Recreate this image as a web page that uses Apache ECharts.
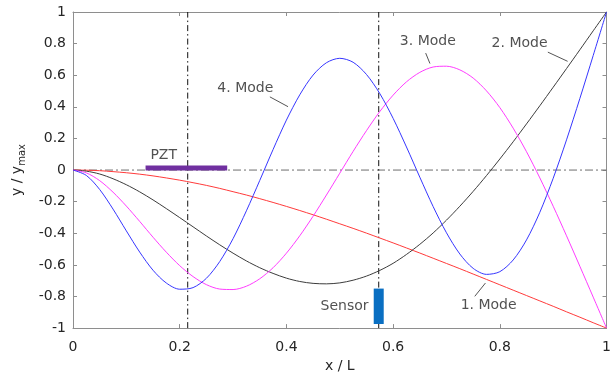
<!DOCTYPE html>
<html>
<head>
<meta charset="utf-8">
<script src="https://cdn.jsdelivr.net/npm/echarts@6/dist/echarts.min.js"></script>
<style>
  html, body { margin: 0; padding: 0; background: #fff; }
  #chart { width: 614px; height: 378px; }
</style>
</head>
<body>
<div id="chart"></div>
<script>
// Normalised mode shapes of a cantilever beam, sampled along x / L
const xPositions = [0, 0.025, 0.05, 0.075, 0.1, 0.125, 0.15, 0.175, 0.2, 0.225, 0.25,
                    0.275, 0.3, 0.325, 0.35, 0.375, 0.4, 0.425, 0.45, 0.475, 0.5,
                    0.525, 0.55, 0.575, 0.6, 0.625, 0.65, 0.675, 0.7, 0.725, 0.75,
                    0.775, 0.8, 0.825, 0.85, 0.875, 0.9, 0.925, 0.95, 0.975, 1];
const mode1 = [0, -0.001, -0.004, -0.010, -0.017, -0.026, -0.037, -0.050, -0.064, -0.080, -0.097,
               -0.116, -0.137, -0.158, -0.181, -0.205, -0.230, -0.256, -0.283, -0.311, -0.340,
               -0.369, -0.399, -0.430, -0.461, -0.493, -0.525, -0.558, -0.591, -0.624, -0.658,
               -0.692, -0.726, -0.760, -0.794, -0.828, -0.862, -0.897, -0.931, -0.966, -1];
const mode2 = [0, -0.007, -0.025, -0.055, -0.093, -0.138, -0.189, -0.244, -0.301, -0.359, -0.417,
               -0.473, -0.526, -0.575, -0.618, -0.654, -0.684, -0.705, -0.717, -0.720, -0.714,
               -0.697, -0.671, -0.635, -0.590, -0.534, -0.470, -0.398, -0.317, -0.229, -0.135,
               -0.035, 0.070, 0.179, 0.292, 0.407, 0.524, 0.642, 0.761, 0.881, 1];
const mode3 = [0, -0.018, -0.067, -0.140, -0.228, -0.325, -0.425, -0.520, -0.605, -0.674, -0.725,
               -0.753, -0.756, -0.735, -0.688, -0.618, -0.526, -0.416, -0.292, -0.158, -0.020,
               0.118, 0.249, 0.370, 0.474, 0.558, 0.618, 0.652, 0.657, 0.634, 0.582,
               0.501, 0.395, 0.265, 0.116, -0.050, -0.229, -0.416, -0.609, -0.804, -1];
const mode4 = [0, -0.034, -0.123, -0.247, -0.385, -0.519, -0.634, -0.715, -0.754, -0.744, -0.685,
               -0.579, -0.434, -0.258, -0.066, 0.130, 0.316, 0.476, 0.601, 0.679, 0.707,
               0.682, 0.605, 0.484, 0.327, 0.146, -0.045, -0.231, -0.397, -0.531, -0.622,
               -0.660, -0.643, -0.569, -0.442, -0.267, -0.052, 0.191, 0.453, 0.725, 1];

const modeNames = ['1. Mode', '2. Mode', '3. Mode', '4. Mode'];
const modeColors = ['#ff3a3a', '#3c3c3c', '#ff3cff', '#3636ff'];

// Label anchors (x / L, y / ymax) and leader segments for each mode
const labelAnchors = [[0.779, -0.854], [0.837, 0.801], [0.665, 0.817], [0.323, 0.516]];
const leaderStarts = [[0.753, -0.799], [0.890, 0.746], [0.661, 0.740], [0.369, 0.463]];
const leaderEnds   = [[0.773, -0.715], [0.927, 0.688], [0.669, 0.674], [0.403, 0.401]];

// Actuator (PZT) and sensor placement
const pztPosition = 0.215;
const pztSpan = [0.136, 0.289];
const pztLevel = 0.013;
const pztLabel = ['PZT', 0.170, 0.094];
const sensorPosition = 0.573;
const sensorSpan = [-0.750, -0.974];
const sensorLabel = ['Sensor', 0.509, -0.865];

const xTicks = { min: 0, max: 1, interval: 0.2 };
const yTicks = { min: -1, max: 1, interval: 0.2 };

const font = 'DejaVu Sans';
const textColor = '#262626';
const boxColor = '#8e8e8e';

function pairs(ys) { return xPositions.map((x, i) => [x, ys[i]]); }

const series = [];

// zero reference line
series.push({
  type: 'line', data: [[0, 0], [1, 0]], showSymbol: false, silent: true,
  lineStyle: { color: '#6e6e6e', width: 1, type: [8, 3, 2, 3] }, z: 1
});
// vertical position lines for PZT and sensor
[pztPosition, sensorPosition].forEach(p => {
  series.push({
    type: 'line', data: [[p, -1], [p, 1]], showSymbol: false, silent: true,
    lineStyle: { color: '#111', width: 1, type: [6, 3, 1.5, 3] }, z: 1
  });
});

[mode1, mode2, mode3, mode4].forEach((ys, i) => {
  series.push({
    type: 'line', name: modeNames[i], data: pairs(ys), smooth: 0.3,
    showSymbol: false, silent: true,
    lineStyle: { color: modeColors[i], width: 1 }, z: 3
  });
  series.push({
    type: 'line', data: [leaderStarts[i], leaderEnds[i]], showSymbol: false, silent: true,
    lineStyle: { color: '#555', width: 1 }, z: 3
  });
});

// PZT patch
series.push({
  type: 'line', data: [[pztSpan[0], pztLevel], [pztSpan[1], pztLevel]], showSymbol: false,
  silent: true, lineStyle: { color: '#7030a0', width: 5, cap: 'butt' }, z: 4
});
// sensor patch
series.push({
  type: 'line', data: [[sensorPosition, sensorSpan[0]], [sensorPosition, sensorSpan[1]]],
  showSymbol: false, silent: true,
  lineStyle: { color: '#0a6fc2', width: 10, cap: 'butt' }, z: 4
});

// text annotations
const annotations = modeNames.map((n, i) => ({ name: n, value: labelAnchors[i] }))
  .concat([
    { name: pztLabel[0], value: [pztLabel[1], pztLabel[2]] },
    { name: sensorLabel[0], value: [sensorLabel[1], sensorLabel[2]] }
  ]);
series.push({
  type: 'scatter', data: annotations, symbolSize: 1, silent: true,
  itemStyle: { color: 'transparent' },
  label: {
    show: true, position: 'inside', formatter: p => p.name,
    color: textColor, fontFamily: font, fontSize: 14
  },
  z: 5
});

const axisCommon = {
  type: 'value',
  splitLine: { show: false },
  axisLine: { show: true, onZero: false, lineStyle: { color: boxColor, width: 1 } },
  axisTick: { show: true, inside: true, length: 4, lineStyle: { color: boxColor } }
};

const option = {
  animation: false,
  backgroundColor: '#ffffff',
  grid: { left: 73, right: 1, top: 12, bottom: 41, containLabel: false },
  xAxis: [
    Object.assign({}, axisCommon, xTicks, {
      position: 'bottom',
      name: 'x / L', nameLocation: 'middle', nameGap: 27,
      nameTextStyle: { color: textColor, fontFamily: font, fontSize: 14 },
      axisLabel: { color: textColor, fontFamily: font, fontSize: 14, margin: 12 }
    }),
    Object.assign({}, axisCommon, xTicks, { position: 'top', axisLabel: { show: false } })
  ],
  yAxis: [
    Object.assign({}, axisCommon, yTicks, {
      position: 'left',
      name: '{m|y / y}{s|max}', nameLocation: 'middle', nameRotate: 90, nameGap: 46,
      nameTextStyle: {
        color: textColor, fontFamily: font,
        rich: {
          m: { fontSize: 14, lineHeight: 20, fontFamily: font, color: textColor },
          s: { fontSize: 10, lineHeight: 10, verticalAlign: 'bottom', fontFamily: font, color: textColor }
        }
      },
      axisLabel: { color: textColor, fontFamily: font, fontSize: 14, margin: 7 }
    }),
    Object.assign({}, axisCommon, yTicks, { position: 'right', axisLabel: { show: false } })
  ],
  series: series
};

const chart = echarts.init(document.getElementById('chart'), null, { renderer: 'canvas' });
chart.setOption(option);
</script>
</body>
</html>
